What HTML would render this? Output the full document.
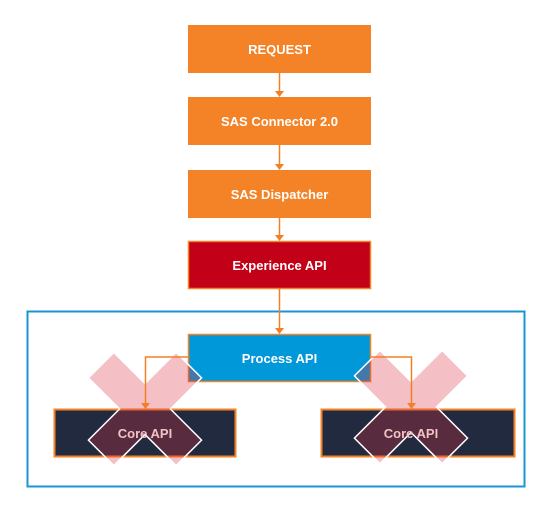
<!DOCTYPE html>
<html><head><style>
body{margin:0;background:#fff;width:551px;height:504px;overflow:hidden;font-family:"Liberation Sans",Arial,sans-serif}
</style></head><body>
<svg width="551" height="504" xmlns="http://www.w3.org/2000/svg" font-family="Liberation Sans, Arial, sans-serif" font-weight="bold" font-size="13">
<rect x="27.5" y="311.5" width="497" height="175" fill="none" stroke="#1a95d3" stroke-width="2"/>
<g fill="#f38326">
<rect x="188" y="25" width="183" height="48"/>
<rect x="188" y="97" width="183" height="48"/>
<rect x="188" y="170" width="183" height="48"/>
</g>
<rect x="188.5" y="241.5" width="182" height="47" fill="#c20017" stroke="#f38326" stroke-width="1.5"/>
<rect x="188.5" y="334.5" width="182" height="47" fill="#0098d8" stroke="#f38326" stroke-width="1.5"/>
<rect x="54.5" y="409.5" width="181" height="47" fill="#222a40" stroke="#f38326" stroke-width="2"/>
<rect x="321.5" y="409.5" width="193" height="47" fill="#222a40" stroke="#f38326" stroke-width="2"/>
<g fill="#dc3040" fill-opacity="0.3" stroke="#fff" stroke-width="1.5">
<path transform="translate(145 409) rotate(45)" d="M-18,-62 L18,-62 L18,-18 L62,-18 L62,18 L18,18 L18,62 L-18,62 L-18,18 L-62,18 L-62,-18 L-18,-18 z"/>
<path transform="translate(411 407) rotate(45)" d="M-18,-62 L18,-62 L18,-18 L62,-18 L62,18 L18,18 L18,62 L-18,62 L-18,18 L-62,18 L-62,-18 L-18,-18 z"/>
</g>
<g stroke="#f08023" stroke-width="1.5" fill="none">
<path d="M279.5 73 V92"/><path d="M279.5 145 V165"/><path d="M279.5 218 V236"/><path d="M279.5 288 V329"/>
<path d="M188 357 H145.5 V404"/><path d="M371 357 H411.5 V404"/>
</g>
<g fill="#f08023">
<path d="M275 91 L284 91 L279.5 97z"/><path d="M275 164 L284 164 L279.5 170z"/><path d="M275 235 L284 235 L279.5 241z"/><path d="M275 328 L284 328 L279.5 334z"/>
<path d="M141 403 L150 403 L145.5 409z"/><path d="M407 403 L416 403 L411.5 409z"/>
</g>
<g fill="#fff" text-anchor="middle">
<text x="279.5" y="54">REQUEST</text>
<text x="279.5" y="126">SAS Connector 2.0</text>
<text x="279.5" y="199">SAS Dispatcher</text>
<text x="279.5" y="270">Experience API</text>
<text x="279.5" y="363">Process API</text>
</g>
<g fill="#f3c2c4" text-anchor="middle">
<text x="145" y="438">Core API</text>
<text x="411" y="438">Core API</text>
</g>
</svg>
</body></html>
